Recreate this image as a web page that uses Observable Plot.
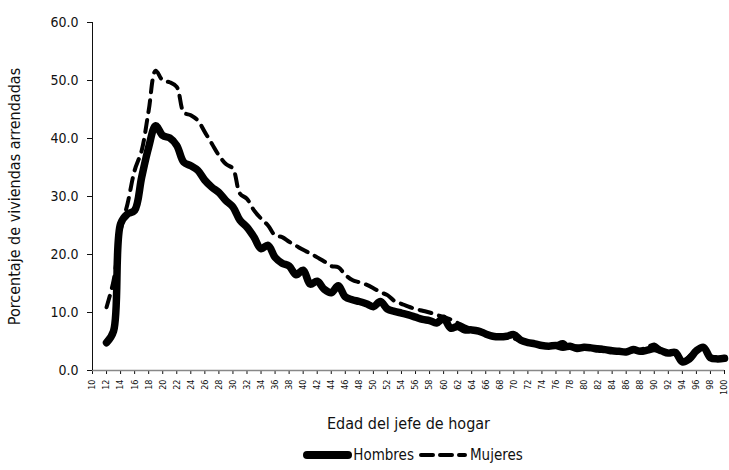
<!DOCTYPE html>
<html><head><meta charset="utf-8">
<script src="https://cdn.jsdelivr.net/npm/d3@7"></script>
<script src="https://cdn.jsdelivr.net/npm/@observablehq/plot@0.6"></script>
<style>
body{margin:0;background:#fff;font-family:"Liberation Sans Narrow","DejaVu Sans Condensed","Liberation Sans",sans-serif;}
#legend{display:flex;justify-content:center;align-items:center;gap:3px;font-size:15px;color:#111;height:30px;padding-left:96px;}
#legend span{display:inline-flex;align-items:center;gap:1px;}
</style></head>
<body>
<div id="chart"></div>
<div id="legend"></div>
<script>
const ages = [12,13,14,15,16,17,18,19,20,21,22,23,24,25,26,27,28,29,30,31,32,33,34,35,36,37,38,39,40,41,42,43,44,45,46,47,48,49,50,51,52,53,54,55,56,57,58,59,60,61,62,63,64,65,66,67,68,69,70,71,72,73,74,75,76,77,78,79,80,81,82,83,84,85,86,87,88,89,90,91,92,93,94,95,96,97,98,99,100];
const hombres = [4.8,6.8,25.3,27.0,27.6,33.3,38.5,42.2,40.5,40.1,38.8,35.9,35.3,34.5,32.8,31.6,30.7,29.3,28.2,25.9,24.7,23.0,21.0,21.6,19.5,18.5,18.0,16.5,17.3,14.9,15.4,14.0,13.4,14.6,12.7,12.2,11.9,11.5,11.0,11.9,10.6,10.2,9.9,9.6,9.2,8.8,8.6,8.2,9.0,7.3,7.6,7.0,7.0,6.8,6.3,5.9,5.8,5.9,6.2,5.2,4.8,4.6,4.3,4.2,4.3,4.0,4.2,3.8,4.0,3.9,3.7,3.6,3.4,3.3,3.2,3.6,3.3,3.5,3.8,3.4,3.0,3.1,1.5,2.0,3.4,4.0,2.2,2.0,2.1];
const mujeres = [10.9,15.5,24.1,28.8,34.5,37.9,44.8,51.7,50.0,49.7,48.9,44.5,44.0,43.1,41.1,39.1,37.1,35.6,34.8,30.5,29.6,27.6,26.2,25.0,23.3,23.0,22.2,21.5,20.8,20.2,19.5,18.8,18.0,17.8,16.5,15.6,15.2,14.8,14.2,13.5,13.0,12.0,11.5,11.0,10.6,10.3,10.0,9.6,9.2,8.8,8.2,7.6,7.2,7.0,6.5,6.2,6.0,5.8,5.5,5.2,5.0,4.6,4.4,4.3,4.5,4.9,4.1,4.2,4.0,4.0,4.0,3.8,3.5,3.4,3.0,3.3,3.6,4.0,4.5,3.6,3.2,2.8,1.2,2.5,3.3,3.8,2.0,1.9,1.9];
const xTicks = [10,12,14,16,18,20,22,24,26,28,30,32,34,36,38,40,42,44,46,48,50,52,54,56,58,60,62,64,66,68,70,72,74,76,78,80,82,84,86,88,90,92,94,96,98,100];
const yTicks = [0,10,20,30,40,50,60];
const seriesNames = ["Hombres","Mujeres"];

const dataH = ages.map((a,i)=>({age:a, v:hombres[i]}));
const dataM = ages.map((a,i)=>({age:a, v:mujeres[i]}));

const chart = Plot.plot({
  width: 729, height: 440,
  marginLeft: 92, marginRight: 5, marginTop: 22, marginBottom: 70,
  style: {fontFamily: '"Liberation Sans Narrow","DejaVu Sans Condensed","Liberation Sans",sans-serif', color:"#111", background:"#fff"},
  x: {domain:[10,100]},
  y: {domain:[0,60]},
  marks: [
    Plot.axisX({ticks: xTicks, tickRotate: -90, tickSize: 4, tickFormat: d=>String(d), fontSize: 9,
      label: "Edad del jefe de hogar", labelAnchor: "center", labelArrow: "none", labelOffset: 58}),
    Plot.axisY({ticks: yTicks, tickFormat: d=>d.toFixed(1), tickSize: 5, fontSize: 14, tickPadding: 9,
      label: "Porcentaje de viviendas arrendadas", labelAnchor: "center", labelArrow: "none", labelOffset: 84}),
    Plot.ruleY([0], {stroke:"#888", strokeWidth:1.5}),
    Plot.ruleX([10], {stroke:"#111", strokeWidth:1}),
    Plot.line(dataM, {x:"age", y:"v", stroke:"#000", strokeWidth:4, strokeDasharray:"12,8", strokeLinecap:"round", curve:"catmull-rom"}),
    Plot.line(dataH, {x:"age", y:"v", stroke:"#000", strokeWidth:7.5, strokeLinecap:"round", strokeLinejoin:"round", curve:"catmull-rom"})
  ]
});
chart.querySelectorAll('[aria-label="x-axis label"] text, [aria-label="y-axis label"] text').forEach(t=>t.setAttribute("font-size","16"));
document.getElementById("chart").appendChild(chart);

const legend = document.getElementById("legend");
const swatches = [
  '<svg width="50" height="12"><line x1="5" y1="6" x2="46" y2="6" stroke="#000" stroke-width="8" stroke-linecap="round"/></svg>',
  '<svg width="52" height="12"><line x1="4" y1="6" x2="48" y2="6" stroke="#000" stroke-width="4" stroke-dasharray="12,7" stroke-linecap="round"/></svg>'
];
seriesNames.forEach((n,i)=>{
  const s = document.createElement("span");
  s.innerHTML = swatches[i] + "<span>" + n + "</span>";
  legend.appendChild(s);
});
</script>
</body></html>
